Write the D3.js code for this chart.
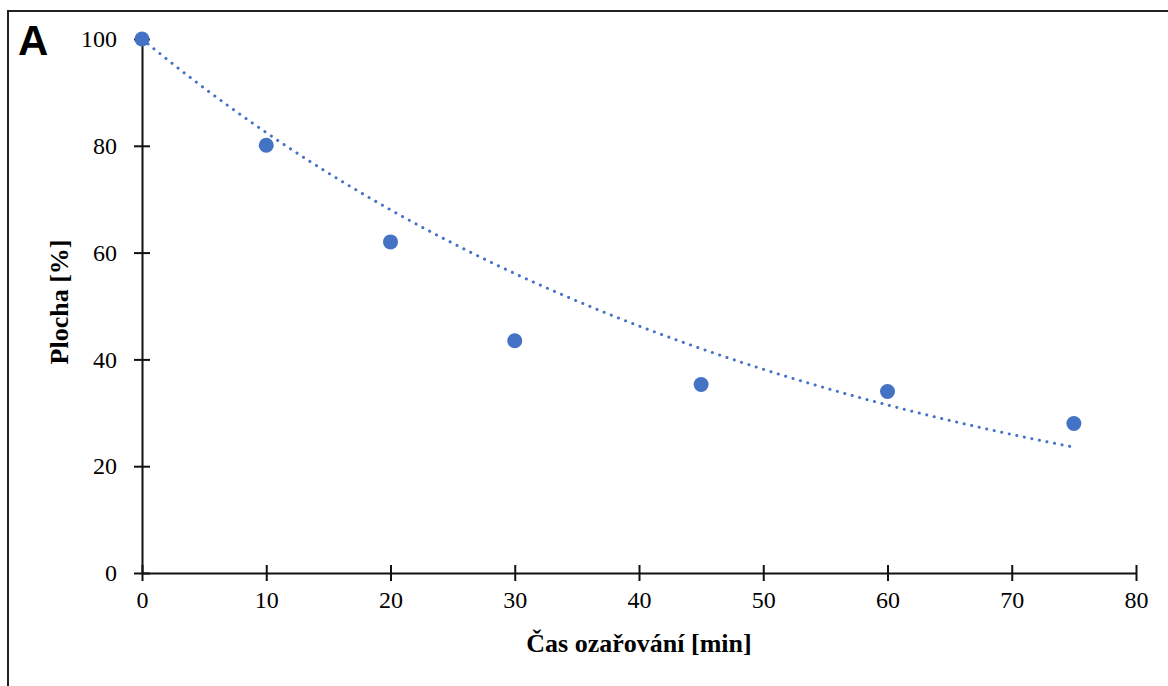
<!DOCTYPE html>
<meta charset="utf-8">
<style>
body { margin: 0; background: #fff; }
text { font-family: "Liberation Serif", "Times New Roman", serif; }
</style>
<body>
<div id="chart"></div>
<script src="https://d3js.org/d3.v7.min.js"></script>
<script>

// measured values (Plocha vs. irradiation time)
var casMin = [0, 10, 20, 30, 45, 60, 75];
var plocha = [100, 80.1, 62, 43.5, 35.3, 34, 28];
var xTicks = [0, 10, 20, 30, 40, 50, 60, 70, 80];
var yTicks = [0, 20, 40, 60, 80, 100];

var width = 1168, height = 686;
var margin = {top: 39, right: 32, bottom: 113, left: 142};

var svg = d3.select("#chart")
  .append("svg")
    .attr("width", width)
    .attr("height", height);

// outer frame (runs off the right and bottom edge)
svg.append("rect")
  .attr("x", 8)
  .attr("y", 11)
  .attr("width", 1200)
  .attr("height", 720)
  .attr("fill", "none")
  .attr("stroke", "#222")
  .attr("stroke-width", 2);

var x = d3.scaleLinear()
  .domain([0, 80])
  .range([margin.left, width - margin.right]);
var y = d3.scaleLinear()
  .domain([0, 100])
  .range([height - margin.bottom, margin.top]);

// exponential trendline with intercept fixed at 100 (least squares on ln y)
var num = d3.sum(casMin, function(d, i) { return d * Math.log(plocha[i] / 100); });
var den = d3.sum(casMin, function(d) { return d * d; });
var k = num / den;
var trend = d3.range(0, 75.01, 0.5).map(function(t) { return [t, 100 * Math.exp(k * t)]; });

// axes
var xAxis = svg.append("g")
  .attr("transform", "translate(0," + y(0) + ")")
  .call(d3.axisBottom(x).tickValues(xTicks).tickSize(8).tickSizeOuter(0));
xAxis.selectAll(".tick line").attr("y1", -8);
xAxis.selectAll("text")
  .attr("y", 18)
  .attr("dy", "0.71em")
  .style("font-size", "24px");

var yAxis = svg.append("g")
  .attr("transform", "translate(" + x(0) + ",0)")
  .call(d3.axisLeft(y).tickValues(yTicks).tickSize(8).tickSizeOuter(0));
yAxis.selectAll(".tick line").attr("x1", 8);
yAxis.selectAll("text")
  .attr("x", -25)
  .style("font-size", "24px");

svg.selectAll(".domain, .tick line")
  .attr("stroke", "#111")
  .attr("stroke-width", 2);
svg.selectAll(".tick text").attr("fill", "#000").style("font-family", "Liberation Serif");

// trendline
svg.append("path")
  .datum(trend)
  .attr("d", d3.line()
    .x(function(d) { return x(d[0]); })
    .y(function(d) { return y(d[1]); }))
  .attr("fill", "none")
  .attr("stroke", "#4472C4")
  .attr("stroke-width", 3)
  .attr("stroke-linecap", "round")
  .attr("stroke-dasharray", "0.1 7.6");

// points
svg.selectAll(".pt")
  .data(casMin)
  .enter()
  .append("circle")
    .attr("cx", function(d) { return x(d); })
    .attr("cy", function(d, i) { return y(plocha[i]); })
    .attr("r", 7.5)
    .attr("fill", "#4472C4");

// axis titles
svg.append("text")
  .attr("x", (x(0) + x(80)) / 2)
  .attr("y", 652)
  .attr("text-anchor", "middle")
  .style("font-size", "26px")
  .style("font-weight", "bold")
  .text("Čas ozařování [min]");

svg.append("text")
  .attr("transform", "translate(68," + 302 + ") rotate(-90)")
  .attr("text-anchor", "middle")
  .style("font-size", "26px")
  .style("font-weight", "bold")
  .text("Plocha [%]");

// panel letter
svg.append("text")
  .attr("x", 18)
  .attr("y", 55)
  .style("font-family", "Liberation Sans, Arial, sans-serif")
  .style("font-size", "42px")
  .style("font-weight", "bold")
  .text("A");

</script>
</body>
